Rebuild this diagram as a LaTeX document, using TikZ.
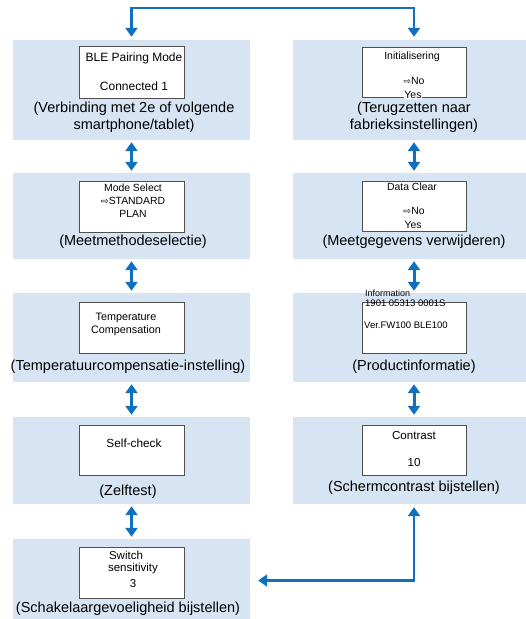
\documentclass[tikz,border=0pt]{standalone}
\usepackage{fontspec}
\setmainfont{Liberation Sans}
\newfontfamily\symf{DejaVu Sans}
\usetikzlibrary{arrows.meta}
\definecolor{panelblue}{HTML}{D6E4F3}
\definecolor{arrowblue}{HTML}{1070C0}
\definecolor{screenline}{HTML}{505050}
\begin{document}
\begin{tikzpicture}[x=1pt,y=-1pt,
  panel/.style={fill=panelblue,draw=none,inner sep=0pt,minimum width=#1},
  panel/.default=237pt,
  screen/.style={fill=white,draw=screenline,line width=1pt,inner sep=0pt,minimum width=105pt},
  captxt/.style={font=\fontsize{14.5}{17}\selectfont,align=center,inner sep=0pt},
  stxt/.style={font=\fontsize{#1}{#1}\selectfont,inner sep=0pt},
  stxt/.default=10.4,
  dbl/.style={draw=arrowblue,line width=3pt,{Triangle[length=9pt,width=12pt]}-{Triangle[length=9pt,width=12pt]},shorten <=2pt,shorten >=2pt},
  conn/.style={draw=arrowblue,line width=2.5pt,{Triangle[length=9pt,width=12pt]}-{Triangle[length=9pt,width=12pt]}}
]
\useasboundingbox (0,0) rectangle (526,619);
% panels
\node[panel,minimum height=100pt] (L1) at (131.5,90) {};
\node[panel,minimum height=86pt] (L2) at (131.5,216) {};
\node[panel,minimum height=89pt] (L3) at (131.5,337.5) {};
\node[panel,minimum height=87pt] (L4) at (131.5,460.5) {};
\node[panel,minimum height=83pt] (L5) at (131.5,580.5) {};
\node[panel=242pt,minimum height=100pt] (R1) at (414,90) {};
\node[panel=242pt,minimum height=86pt] (R2) at (414,216) {};
\node[panel=242pt,minimum height=89pt] (R3) at (414,337.5) {};
\node[panel=242pt,minimum height=87pt] (R4) at (414,460.5) {};
% screens
\node[screen,minimum height=52pt] (LS1) at (131.5,72) {};
\node[screen,minimum height=50pt,minimum width=104pt] (RS1) at (414,72) {};
\node[screen,minimum height=51pt] (LS2) at (131.5,206.5) {};
\node[screen,minimum height=50pt,minimum width=104pt] (RS2) at (414,206) {};
\node[screen,minimum height=51pt] (LS3) at (131.5,327.5) {};
\node[screen,minimum height=51pt,minimum width=104pt] (RS3) at (414,327.5) {};
\node[screen,minimum height=50pt] (LS4) at (131.5,450) {};
\node[screen,minimum height=50pt,minimum width=104pt] (RS4) at (414,450) {};
\node[screen,minimum height=51pt] (LS5) at (131.5,572.5) {};
% screen texts
\node[stxt=12] (t1a) at (134,58) {BLE Pairing Mode};
\node[stxt=12] (t1b) at (134,86) {Connected 1};
\node[stxt=10.5] (t2a) at (412,57) {Initialisering};
\node[stxt=10.5] (t2b) at (414,81) {{\symf\fontsize{9}{9}\selectfont ⇨}No};
\node[stxt=10.5,fill=white,inner sep=0.5pt] (t2c) at (413,95) {Yes};
\node[stxt] (t3a) at (133,188) {Mode Select};
\node[stxt] (t3b) at (133,201) {{\symf\fontsize{9.5}{9.5}\selectfont ⇨}STANDARD};
\node[stxt] (t3c) at (133,214) {PLAN};
\node[stxt] (t4a) at (412,187) {Data Clear};
\node[stxt] (t4b) at (414,211) {{\symf\fontsize{9.5}{9.5}\selectfont ⇨}No};
\node[stxt] (t4c) at (413,225) {Yes};
\node[stxt=10.8] (t5a) at (126,318) {Temperature};
\node[stxt=10.8] (t5b) at (126,331) {Compensation};
\node[stxt=9,anchor=west] (t6a) at (365,293) {Information};
\node[stxt=9.5,anchor=west] (t6b) at (365,303) {1901 05313 0001S};
\node[stxt=9.5,anchor=west] (t6c) at (364,325) {Ver.FW100 BLE100};
\node[stxt=11.8] (t7a) at (134,443) {Self-check};
\node[stxt=11.6] (t8a) at (414,435) {Contrast};
\node[stxt=11.6] (t8b) at (414,462) {10};
\node[stxt=11.5] (t9a) at (126,555) {Switch};
\node[stxt=11.5] (t9b) at (133,569) {sensitivity};
\node[stxt=11.5] (t9c) at (133,584) {3};
% captions
\node[captxt] (c1) at (134,117.5) {(Verbinding met 2e of volgende\\smartphone/tablet)};
\node[captxt] (c2) at (414,117.5) {(Terugzetten naar\\fabrieksinstellingen)};
\node[captxt] (c3) at (133,242) {(Meetmethodeselectie)};
\node[captxt] (c4) at (414,242) {(Meetgegevens verwijderen)};
\node[captxt] (c5) at (128,367) {(Temperatuurcompensatie-instelling)};
\node[captxt] (c6) at (414,367) {(Productinformatie)};
\node[captxt] (c7) at (128,492) {(Zelftest)};
\node[captxt] (c8) at (414,488) {(Schermcontrast bijstellen)};
\node[captxt] (c9) at (128,609) {(Schakelaargevoeligheid bijstellen)};
% connectors
\draw[dbl] (L1) -- (L2);
\draw[dbl] (L2) -- (L3);
\draw[dbl] (L3) -- (L4);
\draw[dbl] (L4) -- (L5);
\draw[dbl] (R1) -- (R2);
\draw[dbl] (R2) -- (R3);
\draw[dbl] (R3) -- (R4);
\coordinate (top) at (270,8);
\draw[conn,shorten <=3pt,shorten >=3pt] (L1.north) |- (top) -| (R1.north);
\draw[conn,shorten <=3pt,shorten >=8pt] (R4.south) |- (L5.east);
\end{tikzpicture}
\end{document}
